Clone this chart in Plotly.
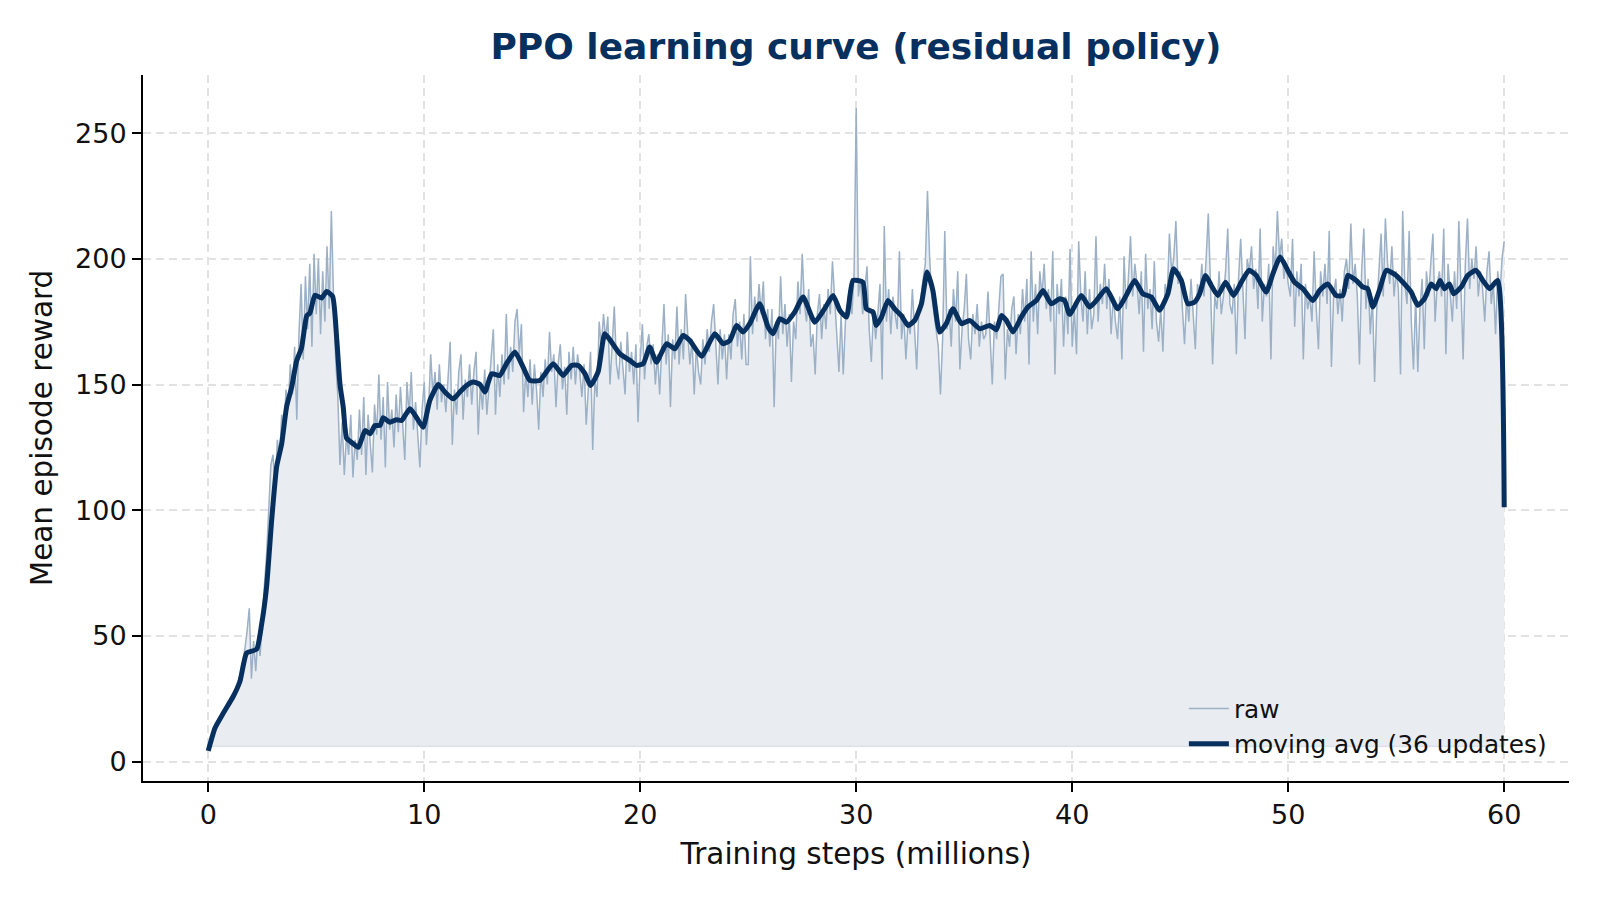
import numpy as np
import plotly.graph_objects as go

# ---------------- data ----------------
STEP_M = 0.1  # millions of steps between raw samples

raw_00_10 = [
    6, 9, 11, 13, 15, 16, 18, 19, 21, 22,
    24, 26, 27, 30, 33, 35, 40, 45, 52, 61,
    33, 48, 36, 50, 42, 58, 70, 82, 98, 118,
    122, 108, 128, 120, 138, 130, 148, 140, 158, 146,
    165, 136, 170, 190, 160, 193, 172, 198, 165, 202,
    178, 200, 170, 195, 175, 205, 180, 219, 185, 160,
    145, 118, 135, 114, 130, 122, 138, 113, 128, 120,
    140, 122, 145, 114, 138, 128, 115, 142, 130, 154,
    128, 145, 117, 151, 132, 140, 125, 146, 131, 149,
    135, 120, 151, 138, 155, 132, 143, 128, 117, 140,
]
raw_10_20 = [
    151, 126, 140, 162, 146, 155, 140, 158, 143, 150,
    139, 152, 167, 126, 148, 138, 155, 162, 136, 152,
    145, 158, 142, 155, 163, 130, 150, 140, 156, 138,
    150, 160, 172, 138, 158, 145, 162, 150, 178, 152,
    165, 155, 175, 180, 162, 174, 139, 155, 145, 160,
    142, 158, 148, 132, 155, 145, 160, 150, 171, 155,
    162, 141, 158, 166, 148, 157, 138, 163, 152, 165,
    150, 162, 155, 145, 158, 134, 150, 163, 124, 152,
    145, 175, 165, 178, 168, 177, 150, 165, 181, 158,
    152, 167, 158, 146, 171, 155, 163, 150, 166, 135,
]
raw_20_30 = [
    160, 174, 152, 165, 170, 158, 166, 150, 162, 146,
    165, 182, 158, 170, 141, 168, 160, 181, 158, 172,
    160, 186, 170, 158, 168, 146, 165, 155, 150, 168,
    158, 172, 163, 175, 182, 165, 150, 172, 160, 170,
    152, 170, 160, 178, 184, 165, 175, 160, 178, 158,
    158, 201, 170, 185, 175, 190, 178, 191, 168, 180,
    165, 180, 141, 175, 168, 193, 170, 182, 165, 178,
    151, 175, 168, 191, 178, 202, 182, 175, 188, 165,
    170, 154, 178, 186, 168, 182, 172, 188, 178, 199,
    182, 170, 155, 178, 154, 175, 182, 188, 178, 194,
]
raw_30_40 = [
    260, 185, 192, 178, 188, 197, 172, 159, 180, 168,
    178, 190, 152, 213, 175, 188, 170, 185, 178, 172,
    203, 168, 178, 160, 175, 170, 188, 172, 156, 180,
    185, 192, 198, 227, 200, 185, 178, 170, 165, 146,
    168, 211, 172, 180, 165, 188, 175, 195, 156, 172,
    180, 194, 168, 160, 178, 170, 182, 165, 175, 168,
    170, 187, 165, 150, 175, 168, 180, 193, 194, 152,
    172, 165, 180, 185, 162, 178, 170, 188, 175, 192,
    158, 203, 175, 190, 170, 195, 185, 198, 180, 188,
    175, 203, 154, 190, 178, 192, 165, 185, 170, 204,
]
raw_40_50 = [
    165, 180, 162, 207, 185, 175, 195, 170, 188, 172,
    178, 209, 175, 190, 182, 198, 180, 192, 170, 185,
    175, 168, 185, 160, 201, 180, 192, 209, 185, 198,
    190, 178, 195, 163, 202, 180, 188, 172, 199, 175,
    167, 180, 163, 190, 185, 210, 195, 200, 215, 190,
    195, 180, 166, 185, 175, 192, 180, 164, 190, 185,
    198, 185, 200, 218, 190, 158, 185, 180, 195, 178,
    185, 195, 212, 182, 178, 190, 162, 192, 208, 185,
    168, 200, 195, 205, 188, 196, 180, 212, 175, 190,
    185, 198, 160, 205, 195, 219, 200, 208, 192, 198,
]
raw_50_60 = [
    190, 185, 208, 173, 195, 185, 198, 160, 190, 180,
    185, 175, 203, 180, 164, 195, 185, 198, 182, 211,
    157, 185, 192, 178, 188, 175, 195, 200, 188, 214,
    190, 198, 185, 158, 195, 212, 180, 192, 170, 185,
    151, 180, 195, 210, 185, 216, 198, 190, 205, 185,
    195, 188, 154, 219, 190, 182, 211, 175, 156, 185,
    155, 180, 192, 164, 195, 185, 198, 210, 175, 190,
    195, 185, 212, 162, 198, 185, 175, 195, 180, 215,
    190, 160, 198, 216, 188, 200, 192, 205, 185, 195,
    188, 175, 195, 203, 182, 190, 170, 195, 185, 200,
    207,
]

ma_steps = [
    0, 0.31, 0.7, 1.16, 1.47, 1.78, 2.24, 2.47, 2.7, 2.94, 3.17, 3.4, 3.63, 3.86,
    4.09, 4.32, 4.56, 4.71, 4.94, 5.25, 5.48, 5.76, 5.95, 6.1, 6.25, 6.41, 6.72,
    6.95, 7.26, 7.49, 7.72, 7.95, 8.1, 8.41, 8.72, 8.95, 9.34, 9.65, 9.95, 10.26,
    10.65, 10.96, 11.34, 11.65, 11.96, 12.27, 12.58, 12.81, 13.12, 13.5, 13.81,
    14.2, 14.58, 14.89, 15.35, 15.97, 16.43, 16.82, 17.13, 17.44, 17.7, 18.05,
    18.36, 18.67, 19.06, 19.52, 19.83, 20.14, 20.44, 20.75, 21.22, 21.6, 21.99,
    22.3, 22.84, 23.45, 23.84, 24.15, 24.46, 24.76, 25.07, 25.53, 25.92, 26.15,
    26.46, 26.77, 27.15, 27.54, 28.08, 28.54, 28.93, 29.24, 29.55, 29.85, 30.31,
    30.47, 30.78, 30.93, 31.17, 31.47, 31.78, 32.09, 32.4, 32.71, 33.02, 33.28,
    33.55, 33.86, 34.17, 34.48, 34.87, 35.25, 35.72, 36.18, 36.49, 36.72, 36.95,
    37.26, 37.64, 37.95, 38.34, 38.65, 39.03, 39.42, 39.65, 39.88, 40.42, 40.8,
    41.12, 41.58, 42.11, 42.5, 42.89, 43.27, 43.66, 44.04, 44.43, 44.69, 45.05,
    45.35, 45.67, 45.9, 46.17, 46.44, 46.74, 47.1, 47.47, 47.83, 48.18, 48.52,
    48.98, 49.29, 49.63, 49.98, 50.29, 50.68, 51.14, 51.45, 51.83, 52.22, 52.53,
    52.76, 53.15, 53.45, 53.68, 53.92, 54.22, 54.54, 55.0, 55.38, 55.69, 56.0,
    56.31, 56.62, 56.85, 57.03, 57.23, 57.46, 57.66, 58.01, 58.31, 58.7, 59.01,
    59.32, 59.7, 60.0,
]
ma_values = [
    4.3, 13.3, 19.3, 26, 32, 43.2, 44.7, 54.5, 69.4, 96.4, 117.4, 126.4, 141.3, 148.8,
    159.3, 164.6, 177.3, 178.5, 185.5, 184.4, 187, 185, 168, 150, 141, 128.6, 126.4,
    125, 131.7, 130.4, 133.7, 133.7, 136.8, 135, 136, 135.7, 140.4, 136.8, 133, 143.7,
    150, 147, 144.3, 147, 149.6, 151, 150, 147, 154.3, 153.6, 158.3,
    162.9, 156.9, 151.6, 151.6, 158.3, 153.6, 157.6, 157.6, 154.3, 149.6, 155,
    170.2, 166.9, 162.2, 159.6, 157.6, 158.3, 164.9, 158.9, 166.2, 164.2, 169.5,
    167.5, 161.2, 170.2, 166.2, 167.5, 173.5, 170.9, 174.2, 182.1, 172.8, 170.2,
    176.2, 174.8, 178.8, 184.8, 174.8, 180.2, 185.4, 179.5, 176.8, 191.4, 190.7,
    180.1, 178.8, 173.5, 176.8, 183.4, 180.1, 177.4, 173.5, 175.5, 182.1, 194.7,
    187.4, 170.9, 174.2, 180.1, 174.2, 175.5, 172.2, 173.5, 171.8, 177.4, 175.5,
    170.9, 176.8, 180.8, 183.4, 187.4, 182.1, 184.1, 183.4, 177.9, 185.4, 180.8,
    183.4, 188.1, 180.1, 185.4, 191.4, 186.1, 184.8, 179.5, 186.1, 196, 191.4,
    182.1, 182.8, 186.1, 193.4, 189.4, 185.4, 190.7, 185.4, 190.7, 195.4, 193.4,
    186.8, 194, 200.7, 195.4, 190.7, 188.1, 183.4, 187.4, 190, 185.4, 185.4,
    193.4, 191.4, 188.8, 188.1, 180.8, 187.4, 195.4, 193.4, 190, 186.8, 181.5,
    184.1, 190, 188.1, 191.4, 188.1, 190, 186.1, 188.8, 193.4, 195.4, 191.4,
    188.1, 191.4, 101.2,
]

x_ticks = [0, 10, 20, 30, 40, 50, 60]
y_ticks = [0, 50, 100, 150, 200, 250]

TITLE = "PPO learning curve (residual policy)"
X_LABEL = "Training steps (millions)"
Y_LABEL = "Mean episode reward"
RAW_NAME = "raw"
MA_NAME = "moving avg (36 updates)"

# ---------------- build ----------------
raw = np.array(raw_00_10 + raw_10_20 + raw_20_30 + raw_30_40 + raw_40_50 + raw_50_60, dtype=float)
steps = np.round(np.arange(len(raw)) * STEP_M, 2)
base = np.full_like(raw, raw.min())

NAVY = "#07305f"
RAW_C = "#9cb0c6"
FILL_C = "#e9edf2"
GRID_C = "#e2e2e2"

fig = go.Figure()
fig.add_trace(go.Scatter(x=steps, y=base, mode="lines",
                         line=dict(color="rgba(11,49,98,0.10)", width=1.5),
                         showlegend=False, hoverinfo="skip"))
fig.add_trace(go.Scatter(x=steps, y=raw, mode="lines", fill="tonexty",
                         fillcolor=FILL_C, line=dict(width=0),
                         showlegend=False, hoverinfo="skip"))
fig.add_trace(go.Scatter(x=steps, y=raw, mode="lines", name=RAW_NAME,
                         line=dict(color=RAW_C, width=1.5)))
fig.add_trace(go.Scatter(x=ma_steps, y=ma_values, mode="lines", name=MA_NAME,
                         line=dict(color=NAVY, width=5, shape="spline", smoothing=0.5)))

axis_common = dict(
    showline=True, linecolor="black", linewidth=2, mirror=False,
    ticks="outside", ticklen=9, tickwidth=2, tickcolor="black",
    showgrid=True, gridcolor=GRID_C, gridwidth=1.5, griddash="8px,5px",
    zeroline=False, tickfont=dict(size=27, color="#111111"),
)

fig.update_layout(
    width=1600, height=900,
    margin=dict(l=143, r=31, t=75, b=119),
    paper_bgcolor="white", plot_bgcolor="white",
    font=dict(family="DejaVu Sans", color="#111111"),
    title=dict(text="<b>" + TITLE + "</b>", x=0.5, xref="paper", xanchor="center",
               y=1 - 46 / 900, yref="container", yanchor="middle",
               font=dict(size=36, color=NAVY, family="DejaVu Sans")),
    xaxis=dict(range=[-3.02, 63.0], tickvals=x_ticks,
               title=dict(text=X_LABEL, font=dict(size=29.5), standoff=14),
               **axis_common),
    yaxis=dict(range=[-7.7, 273.1], tickvals=y_ticks,
               title=dict(text=Y_LABEL, font=dict(size=29.5), standoff=14),
               **axis_common),
    legend=dict(x=0.988, xanchor="right", y=0.02, yanchor="bottom",
                bgcolor="rgba(0,0,0,0)", borderwidth=0, traceorder="normal",
                font=dict(size=24.8, color="#111111"),
                itemwidth=40, tracegroupgap=0),
    showlegend=True,
)

fig.write_html("out.html")
